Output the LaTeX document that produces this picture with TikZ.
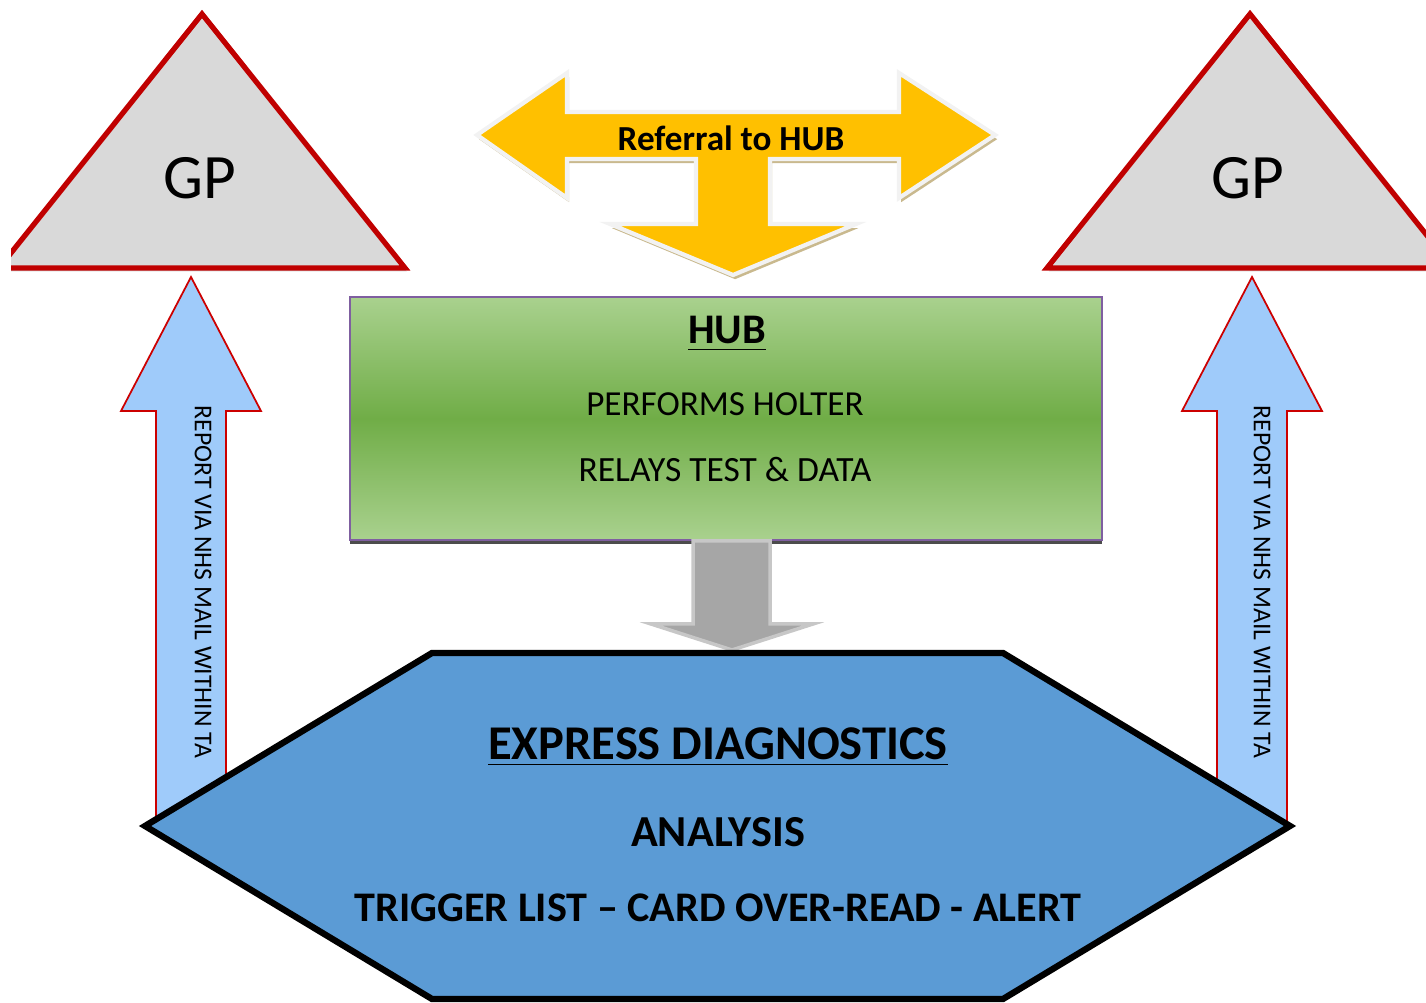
\documentclass[tikz,border=0pt]{standalone}
\usepackage{fontspec}
\setmainfont{Carlito}
\usetikzlibrary{shadows}
\definecolor{gpgray}{HTML}{D9D9D9}
\definecolor{gpred}{HTML}{C00000}
\definecolor{refyellow}{HTML}{FFC000}
\definecolor{reftan}{HTML}{C9B98E}
\definecolor{hubgreen}{HTML}{70AD47}
\definecolor{hublight}{HTML}{A9D18E}
\definecolor{hubpurple}{HTML}{7F5FA0}
\definecolor{expblue}{HTML}{5B9BD5}
\definecolor{rptblue}{HTML}{9FCBFA}
\definecolor{downgray}{HTML}{A6A6A6}
\tikzstyle{gp} = [draw=gpred, line width=1.5pt, fill=gpgray, line join=miter,
  drop shadow={shadow xshift=0.5pt, shadow yshift=-1pt, opacity=0.35}]
\tikzstyle{referral} = [draw=black!5, line width=1.2pt, fill=refyellow,
  drop shadow={shadow xshift=0.6pt, shadow yshift=-1.2pt, fill=reftan, opacity=1}]
\tikzstyle{hubbox} = [draw=hubpurple, line width=0.5pt, top color=hublight,
  bottom color=hublight, middle color=hubgreen,
  drop shadow={shadow xshift=0pt, shadow yshift=-1pt, fill=black!70, opacity=1}]
\tikzstyle{report} = [draw=red!80!black, line width=0.5pt, fill=rptblue]
\tikzstyle{relay} = [draw=black!22, line width=1pt, fill=downgray]
\tikzstyle{express} = [draw=black, line width=1.8pt, fill=expblue, line join=miter]
\tikzstyle{txt} = [inner sep=0pt, text=black]

\begin{document}
\begin{tikzpicture}
  \useasboundingbox (0,0) rectangle (14.26,-10.03);
  \begin{scope}
    \clip (0.11,0) rectangle (14.26,-10.03);
    \draw[gp] (-0.01,-2.68) -- (2.02,-0.14) -- (4.05,-2.68) -- cycle;
    \draw[gp] (10.47,-2.68) -- (12.50,-0.14) -- (14.53,-2.68) -- cycle;
  \end{scope}
  \node[txt, font=\fontsize{18}{20}\selectfont](gpL) at (2.00,-1.78){GP};
  \node[txt, font=\fontsize{18}{20}\selectfont](gpR) at (12.48,-1.78){GP};

  \draw[referral] (4.77,-1.35) -- (5.67,-0.73) -- (5.67,-1.12) -- (8.99,-1.12)
    -- (8.99,-0.73) -- (9.95,-1.35) -- (8.99,-1.98) -- (8.99,-1.59) -- (7.70,-1.59)
    -- (7.70,-2.24) -- (8.56,-2.24) -- (7.33,-2.75) -- (6.10,-2.24) -- (6.96,-2.24)
    -- (6.96,-1.59) -- (5.67,-1.59) -- (5.67,-1.98) -- cycle;
  \node[txt, font=\bfseries\fontsize{10}{12}\selectfont](ref) at (7.31,-1.38){Referral to HUB};

  \draw[hubbox] (3.50,-2.97) rectangle (11.02,-5.40);
  \node[txt, font=\bfseries\fontsize{12}{14}\selectfont](hub) at (7.27,-3.34){\underline{HUB}};
  \node[txt, font=\fontsize{10}{12}\selectfont](perf) at (7.25,-4.04){PERFORMS HOLTER};
  \node[txt, font=\fontsize{10.1}{12}\selectfont](relay) at (7.25,-4.70){RELAYS TEST \& DATA};

  \draw[relay] (6.93,-5.41) -- (7.70,-5.41) -- (7.70,-6.24) -- (8.13,-6.24) -- (7.32,-6.50)
    -- (6.51,-6.24) -- (6.93,-6.24) -- cycle;

  \draw[report] (1.56,-8.30) -- (1.56,-4.11) -- (1.21,-4.11) -- (1.91,-2.77) -- (2.61,-4.11)
    -- (2.26,-4.11) -- (2.26,-8.30);
  \draw[report] (12.17,-8.30) -- (12.17,-4.11) -- (11.82,-4.11) -- (12.52,-2.77) -- (13.22,-4.11)
    -- (12.87,-4.11) -- (12.87,-8.30);
  \node[txt, rotate=-90, font=\fontsize{7.3}{9}\selectfont](repL) at (2.03,-5.82){REPORT VIA NHS MAIL WITHIN TA};
  \node[txt, rotate=-90, font=\fontsize{7.3}{9}\selectfont](repR) at (12.62,-5.82){REPORT VIA NHS MAIL WITHIN TA};

  \draw[express] (1.45,-8.26) -- (4.32,-6.53) -- (10.03,-6.53) -- (12.90,-8.26)
    -- (10.03,-9.99) -- (4.32,-9.99) -- cycle;
  \node[txt, font=\bfseries\fontsize{13.8}{16}\selectfont](exp) at (7.18,-7.47){\underline{EXPRESS DIAGNOSTICS}};
  \node[txt, font=\bfseries\fontsize{12.6}{15}\selectfont](ana) at (7.18,-8.32){ANALYSIS};
  \node[txt, font=\bfseries\fontsize{12}{14}\selectfont](trig) at (7.18,-9.08){TRIGGER LIST -- CARD OVER-READ - ALERT};
\end{tikzpicture}
\end{document}
